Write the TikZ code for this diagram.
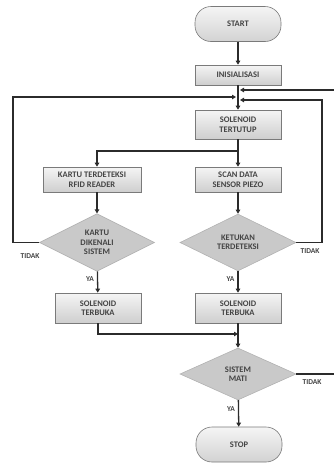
\documentclass[tikz,border=0pt]{standalone}
\usepackage{fontspec}
\setmainfont{Carlito}
\usetikzlibrary{shapes.geometric,arrows.meta}
\definecolor{linegray}{HTML}{2B2B2B}
\definecolor{edgegray}{HTML}{7A7A7A}
\definecolor{textgray}{HTML}{444444}

\tikzset{
	base/.style={draw=edgegray, line width=0.6pt, text=textgray, font=\fontsize{8.5}{9.5}\selectfont\bfseries, align=center, inner sep=1pt},
	process/.style={base, rectangle, top color=gray!8, bottom color=gray!38, minimum width=86, minimum height=#1},
	terminal/.style={base, rectangle, rounded corners=16pt, top color=gray!8, bottom color=gray!35, minimum width=86, minimum height=35},
	decision/.style={base, diamond, fill=gray!42, draw=gray!60, inner sep=0pt, minimum width=116, minimum height=51},
	lbl/.style={text=textgray, font=\fontsize{7.5}{8}\selectfont\bfseries, inner sep=1pt},
	arrow/.style={draw=linegray, line width=1.3pt, -{Triangle[length=4pt,width=4.5pt]}},
	line/.style={draw=linegray, line width=1.3pt}
}

\begin{document}
\begin{tikzpicture}[x=1pt,y=-1pt]
			%%%%% START %%%%%
			\useasboundingbox (0,0) rectangle (334,464);
			
			\node[terminal] (start) at (238,24) {START};
			\node[process=20] (init) at (238,75) {INISIALISASI};
			\node[process=29] (tutup) at (238,124.5) {SOLENOID\\TERTUTUP};
			
			\node[process=25, minimum width=98] (kartu) at (92,179.5) {KARTU TERDETEKSI\\RFID READER};
			\node[process=25] (scan) at (238,179.5) {SCAN DATA\\SENSOR PIEZO};
			
			\node[decision, minimum width=115] (dkartu) at (97,242.5) {KARTU\\DIKENALI\\SISTEM};
			\node[decision] (dketuk) at (238,242.5) {KETUKAN\\TERDETEKSI};
			
			\node[process=30] (bukaL) at (98,308) {SOLENOID\\TERBUKA};
			\node[process=30] (bukaR) at (238,308) {SOLENOID\\TERBUKA};
			
			\node[decision, minimum height=52] (dmati) at (238,374) {SISTEM\\MATI};
			\node[terminal] (stop) at (239,444.5) {STOP};
			
			% titik sambungan
			\coordinate (inT) at (240,90);
			\coordinate (inL) at (236,97);
			\coordinate (inR) at (240,100);
			\coordinate (kiri) at (13,97);
			\coordinate (kanan) at (322,100);
			\coordinate (luar) at (340,90);
			\coordinate (split) at (238,151);
			\coordinate (join) at (238,334);
			
			\draw[arrow] (start) -- (init);
			\draw[arrow] (init) -- (tutup);
			\draw[arrow] (tutup) -- (scan);
			\draw[arrow] (split) -| (kartu.north -| dkartu.north);
			\draw[arrow] (kartu.south -| dkartu.north) -- (dkartu);
			\draw[arrow] (scan) -- (dketuk);
			
			\draw[arrow] (dkartu) -- node[lbl, left=2pt, pos=0.35] (yaL) {YA} (bukaL);
			\draw[arrow] (dketuk) -- node[lbl, left=2pt, pos=0.35] (yaR) {YA} (bukaR);
			
			\draw[arrow] (dkartu.west) -| (kiri) -- (inL);
			\draw[arrow] (dketuk.east) -| (kanan) -- (inR);
			\draw[arrow] (dmati.east) -| (luar) -- (inT);
			
			\draw[arrow] (bukaL.south) |- (join);
			\draw[arrow] (bukaR) -- (dmati);
			\draw[arrow] (dmati) -- node[lbl, left=2pt, pos=0.35] (yaM) {YA} (stop);
			
			\node[lbl] (tidakL) at (30,256) {TIDAK};
			\node[lbl] (tidakR) at (310,251) {TIDAK};
			\node[lbl] (tidakM) at (312,382) {TIDAK};
			%%%%% END %%%%%
\end{tikzpicture}
\end{document}
